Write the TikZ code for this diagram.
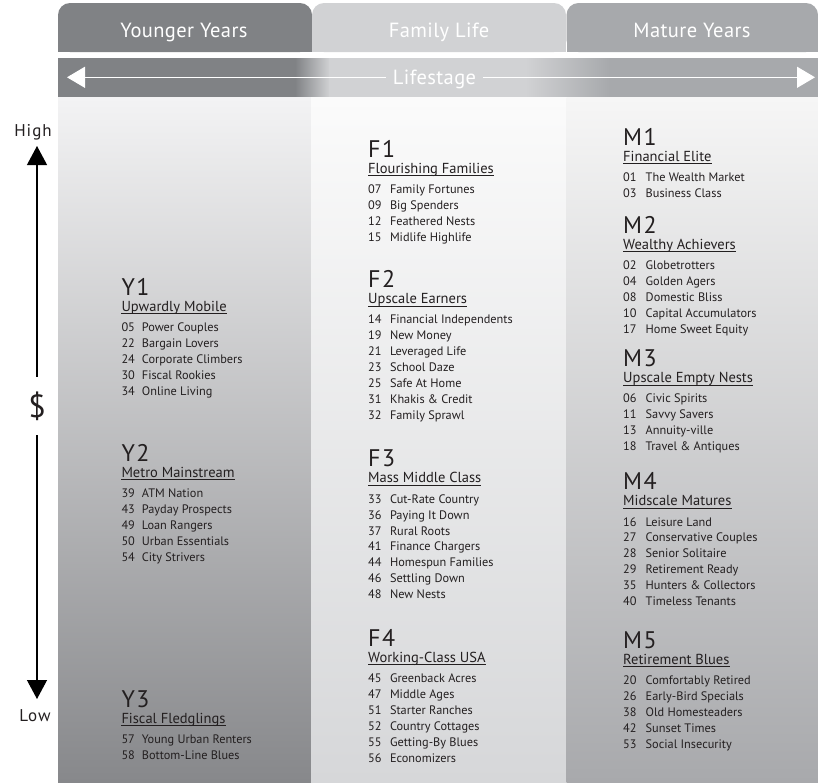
\documentclass[tikz,border=0pt]{standalone}
\usepackage{fontspec}
\setmainfont{PT Sans}
\usetikzlibrary{arrows.meta}
\definecolor{txt}{HTML}{231F20}
\definecolor{tabdark}{HTML}{808285}
\definecolor{tablight}{HTML}{D1D2D4}
\definecolor{tabmid}{HTML}{A7A9AC}
\definecolor{colLtop}{HTML}{F3F3F4}
\definecolor{colLbot}{HTML}{87888B}
\definecolor{colFtop}{HTML}{FBFBFB}
\definecolor{colFbot}{HTML}{D6D7D9}
\definecolor{colMtop}{HTML}{F6F6F6}
\definecolor{colMbot}{HTML}{A8A9AC}
\newcommand\segblock[7]{%
  \node[lab] (#1) at (#2,#3) {#4};
  \node[hdr] (#1h) at (#2,#3+16) {#5};
  \draw[ul] ([yshift=-2.8pt]#1h.base west) -- ([yshift=-2.8pt]#1h.base east);
  \foreach \segnum/\segname [count=\i] in {#7} {
    \node[itm] (#1n\i) at (#2,#3+36.5+15.9*\i-15.9) {\segnum};
    \node[itm] (#1t\i) at (#2+#6,#3+36.5+15.9*\i-15.9) {\segname};
  }%
}
\begin{document}
\begin{tikzpicture}[x=1pt,y=-1pt,
  lab/.style={anchor=base west,inner sep=0pt,text=txt,font=\fontsize{24}{24}\selectfont\addfontfeature{LetterSpace=6}},
  hdr/.style={anchor=base west,inner sep=0pt,text=txt,font=\fontsize{14.5}{14.5}\selectfont},
  itm/.style={anchor=base west,inner sep=0pt,text=txt,font=\fontsize{12.3}{12.3}\selectfont},
  ul/.style={draw=txt,line width=0.9pt},
  tabtext/.style={anchor=base,inner sep=0pt,text=white,font=\fontsize{20.5}{20.5}\selectfont\addfontfeature{LetterSpace=2}},
  axis/.style={line width=1.2pt,draw=black},
  axtext/.style={inner sep=0pt,text=txt,font=\fontsize{17}{17}\selectfont\addfontfeature{LetterSpace=6}}]
\useasboundingbox (0,0) rectangle (818,782);
\fill[white] (0,0) rectangle (818,782);
% tabs
\fill[tabdark,rounded corners=12pt] (58,3) rectangle (312,52);
\fill[tabdark] (58,30) rectangle (312,52);
\fill[tablight,rounded corners=12pt] (312,3) rectangle (566,52);
\fill[tablight] (312,30) rectangle (566,52);
\fill[tabmid,rounded corners=12pt] (566.5,3) rectangle (818,52);
\fill[tabmid] (566.5,30) rectangle (818,52);
\node[tabtext] (tY) at (184,37) {Younger Years};
\node[tabtext] (tF) at (439,37) {Family Life};
\node[tabtext] (tM) at (692,37) {Mature Years};
% lifestage bar
\fill[tabdark] (58,58) rectangle (296,97);
\shade[left color=tabdark,right color=tablight] (295,58) rectangle (330,97);
\fill[tablight] (329,58) rectangle (526,97);
\shade[left color=tablight,right color=tabmid] (525,58) rectangle (610,97);
\fill[tabmid] (609,58) rectangle (818,97);
\node[tabtext,inner xsep=7pt] (ls) at (434.5,84) {Lifestage};
\coordinate (la) at (67,77.3);
\coordinate (ra) at (815,77.3);
\draw[white,line width=1.2pt,-{Triangle[length=18pt,width=21pt]}] (la -| ls.west) -- (la);
\draw[white,line width=1.2pt,-{Triangle[length=18pt,width=21pt]}] (ra -| ls.east) -- (ra);
% columns
\shade[top color=colLtop,bottom color=colLbot] (58,97) rectangle (311.5,782);
\shade[top color=colFtop,bottom color=colFbot] (311,97) rectangle (567,782);
\shade[top color=colMtop,bottom color=colMbot] (566.5,97) rectangle (818,782);
% value axis
\node[axtext,anchor=base] (high) at (33,136) {High};
\node[axtext,anchor=base] (low) at (35,721) {Low};
\node[inner sep=0pt,minimum height=58pt,text=txt,font=\fontsize{32}{32}\selectfont] (dol) at (37,406) {\$};
\coordinate (uptip) at (37,146);
\coordinate (dntip) at (37,699);
\draw[axis,-{Triangle[length=19pt,width=20pt]}] (dol.north) -- (uptip);
\draw[axis,-{Triangle[length=19pt,width=20pt]}] (dol.south) -- (dntip);
% segment groups
\segblock{Y1}{121.3}{295}{Y1}{Upwardly Mobile}{20.4}{05/Power Couples,22/Bargain Lovers,24/Corporate Climbers,30/Fiscal Rookies,34/Online Living}
\segblock{Y2}{121.3}{461}{Y2}{Metro Mainstream}{20.4}{39/ATM Nation,43/Payday Prospects,49/Loan Rangers,50/Urban Essentials,54/City Strivers}
\segblock{Y3}{121.3}{707}{Y3}{Fiscal Fledglings}{20.4}{57/Young Urban Renters,58/Bottom-Line Blues}
\segblock{F1}{368}{157}{F1}{Flourishing Families}{21.8}{07/Family Fortunes,09/Big Spenders,12/Feathered Nests,15/Midlife Highlife}
\segblock{F2}{368}{287.3}{F2}{Upscale Earners}{21.8}{14/Financial Independents,19/New Money,21/Leveraged Life,23/School Daze,25/Safe At Home,31/Khakis \& Credit,32/Family Sprawl}
\segblock{F3}{368}{466.7}{F3}{Mass Middle Class}{21.8}{33/Cut-Rate Country,36/Paying It Down,37/Rural Roots,41/Finance Chargers,44/Homespun Families,46/Settling Down,48/New Nests}
\segblock{F4}{368}{646}{F4}{Working-Class USA}{21.8}{45/Greenback Acres,47/Middle Ages,51/Starter Ranches,52/Country Cottages,55/Getting-By Blues,56/Economizers}
\segblock{M1}{623}{145}{M1}{Financial Elite}{22.5}{01/The Wealth Market,03/Business Class}
\segblock{M2}{623}{233}{M2}{Wealthy Achievers}{22.5}{02/Globetrotters,04/Golden Agers,08/Domestic Bliss,10/Capital Accumulators,17/Home Sweet Equity}
\segblock{M3}{623}{366.3}{M3}{Upscale Empty Nests}{22.5}{06/Civic Spirits,11/Savvy Savers,13/Annuity-ville,18/Travel \& Antiques}
\segblock{M4}{623}{489.5}{M4}{Midscale Matures}{22.5}{16/Leisure Land,27/Conservative Couples,28/Senior Solitaire,29/Retirement Ready,35/Hunters \& Collectors,40/Timeless Tenants}
\segblock{M5}{623}{648}{M5}{Retirement Blues}{22.5}{20/Comfortably Retired,26/Early-Bird Specials,38/Old Homesteaders,42/Sunset Times,53/Social Insecurity}
\end{tikzpicture}
\end{document}
